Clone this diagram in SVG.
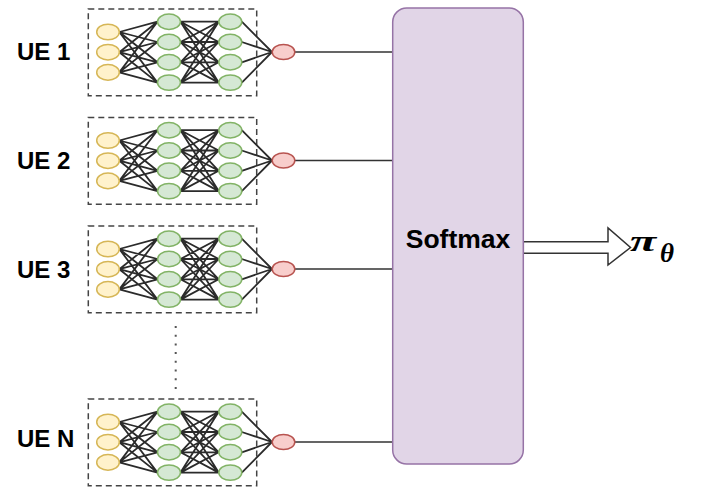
<svg xmlns="http://www.w3.org/2000/svg" xmlns:xlink="http://www.w3.org/1999/xlink" width="701" height="487" viewBox="0 0 701 487">
<style>
.yel{fill:#fff2cc;stroke:#d6b656;stroke-width:1.5}
.grn{fill:#d5e8d4;stroke:#82b366;stroke-width:1.5}
.red{fill:#f8cecc;stroke:#b85450;stroke-width:1.5}
.wire{fill:none;stroke:#333333;stroke-width:1.5}
.nw{fill:none;stroke:#2b2b2b;stroke-width:1.8}
.frame{fill:none;stroke:#444444;stroke-width:1.5;stroke-dasharray:6 4}
.lbl{font-family:"Liberation Sans",Arial,sans-serif;font-weight:bold;font-size:24px;fill:#000}
.math{font-family:"Liberation Serif","Times New Roman",serif;font-weight:bold;font-style:italic;fill:#000}
</style>
<defs>
<g id="net">
<rect class="frame" x="88.3" y="9" width="168.4" height="86.7"/>
<path class="nw" d="M119.3 32L157.5 21.7M119.3 32L157.5 42M119.3 32L157.5 62.3M119.3 32L157.5 82.6M119.3 52.2L157.5 21.7M119.3 52.2L157.5 42M119.3 52.2L157.5 62.3M119.3 52.2L157.5 82.6M119.3 72.4L157.5 21.7M119.3 72.4L157.5 42M119.3 72.4L157.5 62.3M119.3 72.4L157.5 82.6"/>
<path class="nw" d="M180.5 21.7L218.7 21.7M180.5 21.7L218.7 42M180.5 21.7L218.7 62.3M180.5 21.7L218.7 82.6M180.5 42L218.7 21.7M180.5 42L218.7 42M180.5 42L218.7 62.3M180.5 42L218.7 82.6M180.5 62.3L218.7 21.7M180.5 62.3L218.7 42M180.5 62.3L218.7 62.3M180.5 62.3L218.7 82.6M180.5 82.6L218.7 21.7M180.5 82.6L218.7 42M180.5 82.6L218.7 62.3M180.5 82.6L218.7 82.6"/>
<path class="nw" d="M241.8 21.7L272 52M241.8 42L272 52M241.8 62.3L272 52M241.8 82.6L272 52"/>
<ellipse class="yel" cx="108" cy="32" rx="11.3" ry="7.8"/>
<ellipse class="yel" cx="108" cy="52.2" rx="11.3" ry="7.8"/>
<ellipse class="yel" cx="108" cy="72.4" rx="11.3" ry="7.8"/>
<ellipse class="grn" cx="169" cy="21.7" rx="11.5" ry="7.7"/>
<ellipse class="grn" cx="169" cy="42" rx="11.5" ry="7.7"/>
<ellipse class="grn" cx="169" cy="62.3" rx="11.5" ry="7.7"/>
<ellipse class="grn" cx="169" cy="82.6" rx="11.5" ry="7.7"/>
<ellipse class="grn" cx="230.3" cy="21.7" rx="11.5" ry="7.7"/>
<ellipse class="grn" cx="230.3" cy="42" rx="11.5" ry="7.7"/>
<ellipse class="grn" cx="230.3" cy="62.3" rx="11.5" ry="7.7"/>
<ellipse class="grn" cx="230.3" cy="82.6" rx="11.5" ry="7.7"/>
<ellipse class="red" cx="283.5" cy="52" rx="11.3" ry="7.6"/>
</g>
</defs>
<rect width="701" height="487" fill="#ffffff"/>
<g id="connectors">
<path class="wire" d="M295 52H393M295 160.5H393M295 269H393M295 442H393"/>
<line x1="175.7" y1="326" x2="175.7" y2="389" stroke="#555555" stroke-width="2" stroke-dasharray="2 6.7"/>
<path d="M523.3 241.7H608V228L630.5 247.5L608 265V253.3H523.3Z" fill="#ffffff" stroke="#333333" stroke-width="1.5"/>
</g>
<g id="ue1">
<use xlink:href="#net" href="#net"/>
<text class="lbl" x="17" y="60">UE 1</text>
</g>
<g id="ue2">
<use xlink:href="#net" href="#net" transform="translate(0,108.5)"/>
<text class="lbl" x="17" y="169">UE 2</text>
</g>
<g id="ue3">
<use xlink:href="#net" href="#net" transform="translate(0,217)"/>
<text class="lbl" x="17" y="277.5">UE 3</text>
</g>
<g id="ueN">
<use xlink:href="#net" href="#net" transform="translate(0,390)"/>
<text class="lbl" x="17" y="446.5">UE N</text>
</g>
<g id="softmax">
<rect x="392.7" y="8" width="130.6" height="456" rx="14" ry="14" fill="#e1d5e7" stroke="#9673a6" stroke-width="1.5"/>
<text x="458" y="248" text-anchor="middle" font-family="'Liberation Sans',Arial,sans-serif" font-weight="bold" font-size="26.5px">Softmax</text>
</g>
<g id="output">
<text class="math" transform="translate(630,250.5) scale(1.6,1)" x="0" y="0" font-size="30px">π</text>
<text class="math" x="660" y="261.5" font-size="27px">θ</text>
</g>
</svg>
